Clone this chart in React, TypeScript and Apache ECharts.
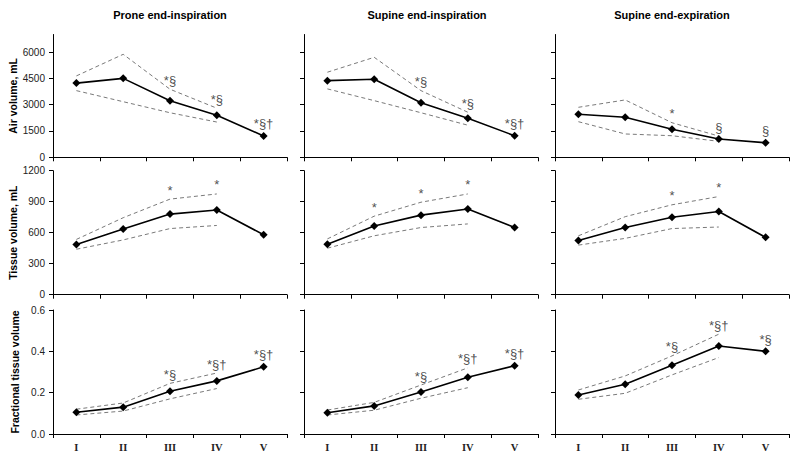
import React, { useEffect, useRef } from "react";
import * as echarts from "echarts";

const categories = ["I", "II", "III", "IV", "V"];
const panelTitles = ["Prone end-inspiration", "Supine end-inspiration", "Supine end-expiration"];
const rowNames = ["Air volume, mL", "Tissue volume, mL", "Fractional tissue volume"];

// Air volume (columns: prone insp, supine insp, supine exp)
const airMean = [
  [4230, 4500, 3220, 2400, 1220],
  [4370, 4450, 3110, 2220, 1230],
  [2450, 2280, 1600, 1040, 830],
];
const airUpper = [
  [4640, 5870, 3880, 2800],
  [4850, 5700, 3800, 2570],
  [2850, 3270, 1970, 1210],
];
const airLower = [
  [3800, 3170, 2540, 2010],
  [3900, 3230, 2540, 1830],
  [2030, 1330, 1230, 910],
];
const airMarks = [
  ["", "", "*§", "*§", "*§†"],
  ["", "", "*§", "*§", "*§†"],
  ["", "", "*", "§", "§"],
];

// Tissue volume
const tissueMean = [
  [485, 635, 780, 820, 580],
  [488, 665, 770, 830, 650],
  [525, 650, 750, 805, 555],
];
const tissueUpper = [
  [535, 745, 925, 975],
  [540, 760, 895, 975],
  [570, 755, 870, 950],
];
const tissueLower = [
  [440, 530, 640, 670],
  [450, 570, 650, 685],
  [480, 545, 640, 655],
];
const tissueMarks = [
  ["", "", "*", "*", ""],
  ["", "*", "*", "*", ""],
  ["", "", "*", "*", ""],
];

// Fractional tissue volume
const fracMean = [
  [0.105, 0.13, 0.207, 0.257, 0.325],
  [0.103, 0.136, 0.203, 0.275, 0.33],
  [0.189, 0.241, 0.333, 0.426, 0.4],
];
const fracUpper = [
  [0.12, 0.15, 0.245, 0.295],
  [0.116, 0.153, 0.237, 0.32],
  [0.213, 0.281, 0.378, 0.483],
];
const fracLower = [
  [0.092, 0.111, 0.17, 0.22],
  [0.092, 0.115, 0.173, 0.224],
  [0.168, 0.197, 0.286, 0.37],
];
const fracMarks = [
  ["", "", "*§", "*§†", "*§†"],
  ["", "", "*§", "*§†", "*§†"],
  ["", "", "*§", "*§†", "*§"],
];

const airTicks = [0, 1500, 3000, 4500, 6000];

export default function App() {
  const ref = useRef<HTMLDivElement>(null);
  useEffect(() => {
    if (!ref.current) return;
    const chart = echarts.init(ref.current, undefined, { renderer: "svg" });
    const colLeft = [53, 304, 555];
    const colW = 234;
    const rowTop = [34.5, 170.7, 310];
    const rowH = [122.8, 124, 124];
    const titleX = [170, 427, 672];
    const sans = "Liberation Sans, Arial, sans-serif";
    const means = [airMean, tissueMean, fracMean];
    const uppers = [airUpper, tissueUpper, fracUpper];
    const lowers = [airLower, tissueLower, fracLower];
    const marks = [airMarks, tissueMarks, fracMarks];

    const grid: any[] = [];
    const xAxis: any[] = [];
    const yAxis: any[] = [];
    const series: any[] = [];
    for (let r = 0; r < 3; r++) {
      for (let c = 0; c < 3; c++) {
        const i = r * 3 + c;
        grid.push({ left: colLeft[c], top: rowTop[r], width: colW, height: rowH[r] });
        xAxis.push({
          type: "category",
          gridIndex: i,
          data: categories,
          boundaryGap: true,
          axisLine: { lineStyle: { color: "#000", width: 1 } },
          axisTick: { show: true, length: 4, lineStyle: { color: "#000" } },
          axisLabel: {
            show: r === 2,
            margin: 8,
            fontFamily: "Liberation Serif, Times New Roman, serif",
            fontWeight: "bold",
            fontSize: 10.5,
            color: "#222",
          },
          splitLine: { show: false },
        });
        const yBase: any = {
          type: "value",
          gridIndex: i,
          axisLine: { show: true, lineStyle: { color: "#000", width: 1 } },
          axisTick: { show: true, length: 4, lineStyle: { color: "#000" } },
          splitLine: { show: false },
          axisLabel: {
            show: c === 0,
            margin: 8,
            fontFamily: sans,
            fontSize: 10,
            color: "#222",
            formatter: (v: number) => String(v),
          },
        };
        if (c === 0) {
          yBase.name = rowNames[r];
          yBase.nameLocation = "middle";
          yBase.nameGap = 33;
          yBase.nameTextStyle = { fontFamily: sans, fontWeight: "bold", fontSize: 10.5, color: "#000" };
        }
        if (r === 0) {
          yBase.min = 0;
          yBase.max = 7000;
          yBase.axisTick.customValues = airTicks;
          yBase.axisLabel.customValues = airTicks;
        } else if (r === 1) {
          yBase.min = 0;
          yBase.max = 1200;
          yBase.interval = 300;
        } else {
          yBase.min = 0;
          yBase.max = 0.6;
          yBase.interval = 0.2;
          yBase.axisLabel.formatter = (v: number) => v.toFixed(1);
        }
        yAxis.push(yBase);

        const mean = means[r][c];
        const up = uppers[r][c];
        const lo = lowers[r][c];
        const mk = marks[r][c];
        const dashed = {
          type: "line",
          xAxisIndex: i,
          yAxisIndex: i,
          symbol: "none",
          lineStyle: { color: "#7a7a7a", width: 1, type: [4, 3] },
          silent: true,
          z: 2,
        };
        series.push({ ...dashed, data: up });
        series.push({ ...dashed, data: lo });
        series.push({
          type: "line",
          xAxisIndex: i,
          yAxisIndex: i,
          data: mean,
          symbol: "diamond",
          symbolSize: 8,
          itemStyle: { color: "#000" },
          lineStyle: { color: "#000", width: 1.6 },
          z: 3,
        });
        const annData: any[] = [];
        mk.forEach((t, k) => {
          if (!t) return;
          const onUpper = k < up.length;
          annData.push({
            value: [k, onUpper ? up[k] : mean[k]],
            label: { formatter: t, distance: onUpper ? 2 : 5 },
          });
        });
        series.push({
          type: "scatter",
          xAxisIndex: i,
          yAxisIndex: i,
          symbolSize: 1,
          itemStyle: { color: "rgba(0,0,0,0)" },
          silent: true,
          data: annData,
          label: {
            show: true,
            position: "top",
            fontFamily: sans,
            fontSize: 13,
            color: "#222",
          },
          z: 4,
        });
      }
    }

    const graphic = panelTitles.map((t, c) => ({
      type: "text",
      x: titleX[c],
      y: 14.5,
      style: {
        text: t,
        fontFamily: sans,
        fontWeight: "bold",
        fontSize: 11,
        fill: "#000",
        textAlign: "center",
        textVerticalAlign: "middle",
      },
    }));

    chart.setOption({
      animation: false,
      backgroundColor: "#fff",
      grid,
      xAxis,
      yAxis,
      series,
      graphic,
    });
    return () => chart.dispose();
  }, []);
  return (
    <div
      ref={ref}
      style={{ position: "fixed", left: 0, top: 0, width: 800, height: 465 }}
    />
  );
}
